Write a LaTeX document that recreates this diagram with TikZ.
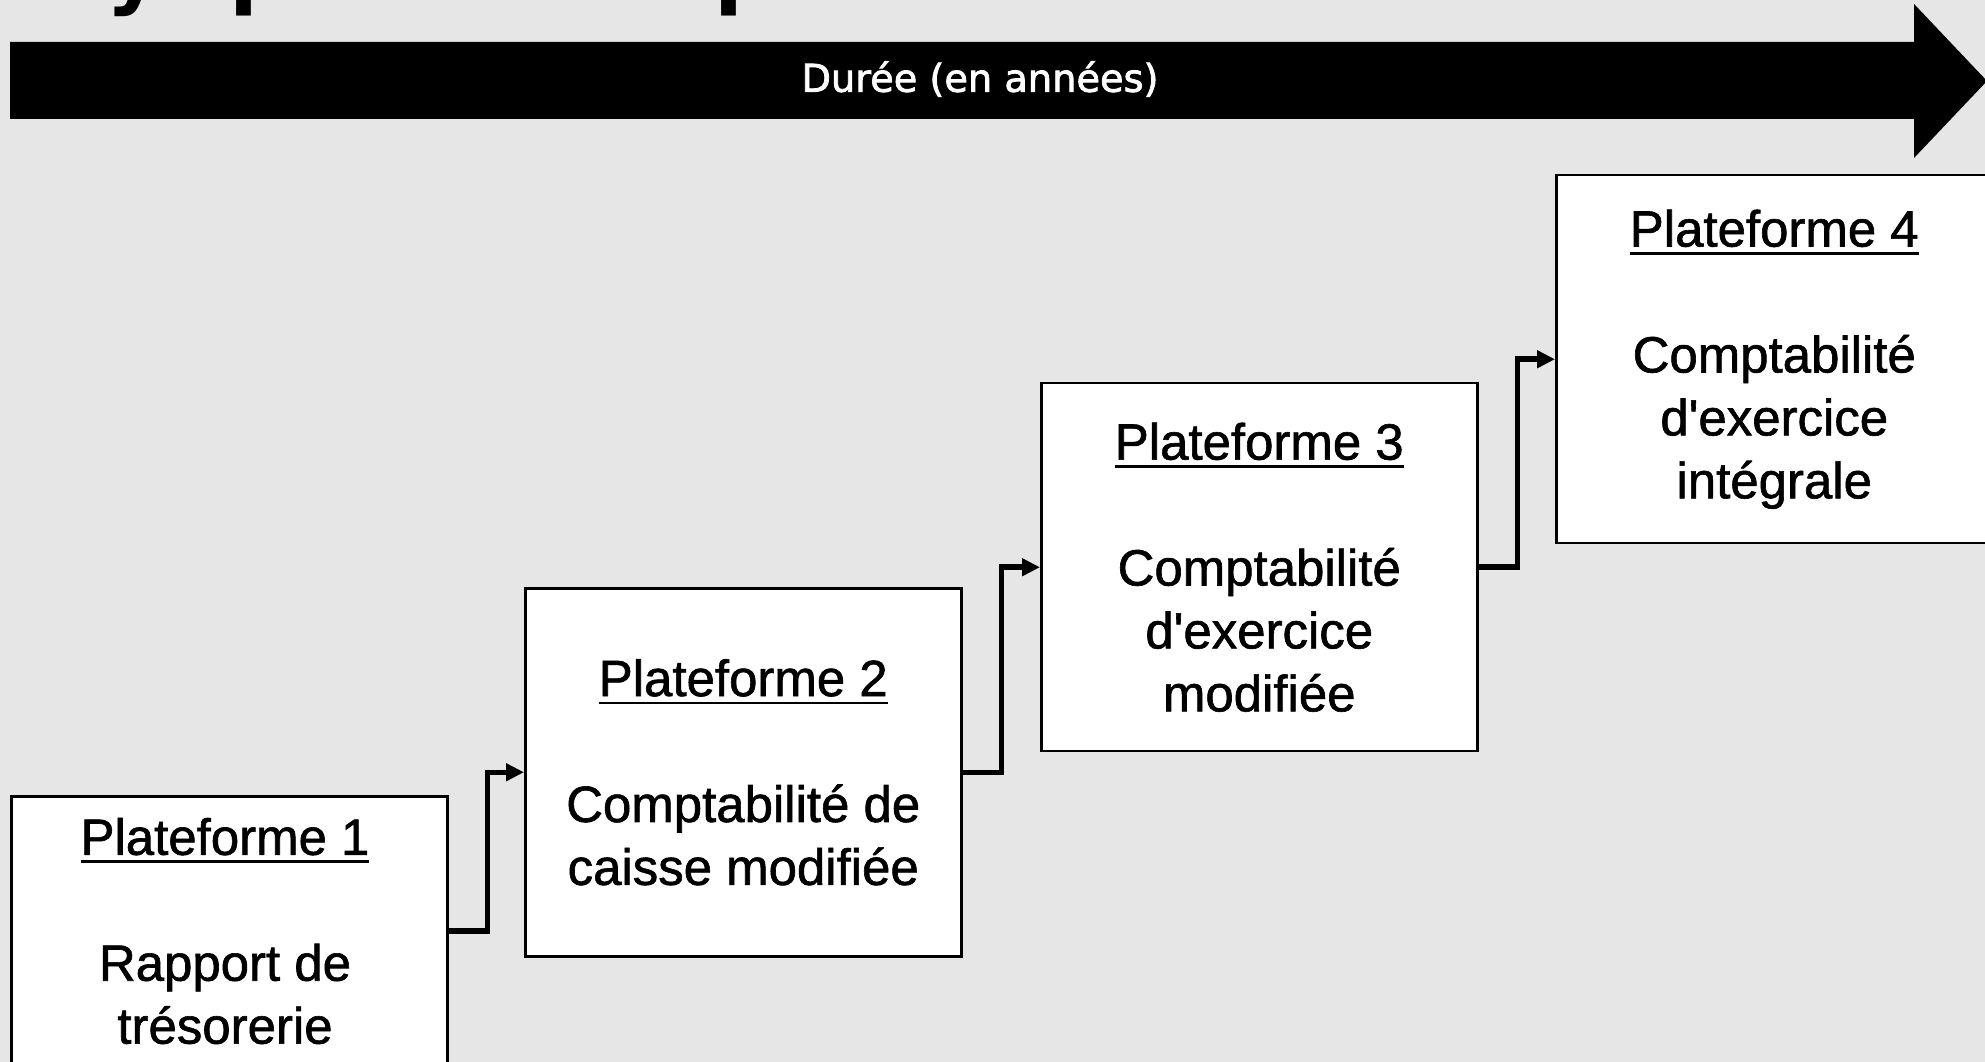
\documentclass[tikz,border=0pt]{standalone}
\usepackage{fontspec}
\setmainfont[FakeBold=1.2]{Liberation Sans}
\newfontfamily\titrefont{DejaVu Sans}
\newfontfamily\dureefont[FakeBold=2]{DejaVu Sans}
\usetikzlibrary{arrows.meta}

\definecolor{fond}{RGB}{230,230,230}

% texte souligne, trait un peu plus epais que \underline
\newcommand{\souligne}[1]{\setbox0\hbox{#1}\rlap{\rule[-2.4pt]{\wd0}{0.8pt}}\box0}

\tikzset{
	plat/.style={draw, fill=white, line width=0.25mm, minimum width=43.6mm, minimum height=36.8mm, anchor=north west, inner sep=0pt},
	texte/.style={align=center, inner sep=0pt, font=\fontsize{14.5}{17.9}\selectfont},
	lien/.style={line width=0.55mm, -{Triangle[length=1.8mm,width=1.7mm]}},
	morceau/.style={anchor=base west, inner sep=0pt, font=\titrefont\bfseries\fontsize{24}{28}\selectfont}
}

\begin{document}
\begin{tikzpicture}[x=0.1mm, y=-0.1mm]
	\useasboundingbox (0,0) rectangle (1985,1062);
	\fill[fond] (0,0) rectangle (1985,1062);
	
	% titre coupe par le haut de l'image
	\node[morceau] (t1) at (106,-1) {y};
	\node[morceau] (t2) at (229,-1) {p};
	\node[morceau] (t3) at (714,-1) {p};
	
	% fleche du temps
	\fill (10,42) -- (1914,42) -- (1914,4) -- (1987,81) -- (1914,158) -- (1914,119) -- (10,119) -- cycle;
	\node[text=white, font=\dureefont\fontsize{10.9}{13}\selectfont] (duree) at (980,79) {Durée (en années)};
	
	\node[plat] (p1) at (10,795) {};
	\node[plat] (p2) at (524,587) {};
	\node[plat] (p3) at (1040,382) {};
	\node[plat] (p4) at (1555,174) {};
	
	\node[texte] (l1) at (225,931) {\souligne{Plateforme 1}\\[6.3mm]Rapport de\\trésorerie};
	\node[texte] (l2) at (p2.center) {\souligne{Plateforme 2}\\[6.3mm]Comptabilité de\\caisse modifiée};
	\node[texte] (l3) at (p3.center) {\souligne{Plateforme 3}\\[6.3mm]Comptabilité\\d\textquotesingle exercice\\modifiée};
	\node[texte] (l4) at (p4.center) {\souligne{Plateforme 4}\\[6.3mm]Comptabilité\\d\textquotesingle exercice\\intégrale};
	
	\draw[lien] (p1.east |- l1) -- ++(39,0) |- (p2.west);
	\draw[lien] (p2.east) -- ++(39,0) |- (p3.west);
	\draw[lien] (p3.east) -- ++(39,0) |- (p4.west);
\end{tikzpicture}
\end{document}
